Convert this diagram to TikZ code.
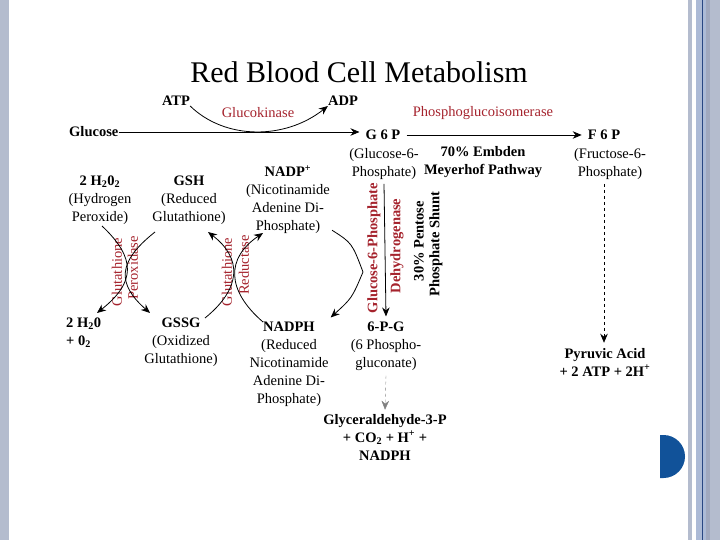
\documentclass[tikz,border=0pt]{standalone}
\usepackage{fontspec}
\setmainfont{Liberation Serif}
\usetikzlibrary{arrows.meta}
\definecolor{enzred}{RGB}{165,35,45}
\definecolor{stripe}{RGB}{180,188,206}
\definecolor{stripeb}{RGB}{172,186,214}
\definecolor{stripec}{RGB}{160,168,190}
\definecolor{darkline}{RGB}{40,70,130}
\definecolor{dblue}{RGB}{17,82,153}
\begin{document}
\begin{tikzpicture}[x=1pt,y=-1pt,
  txt/.style={font=\fontsize{14.5}{18}\selectfont, align=center, inner sep=0pt},
  btxt/.style={txt, font=\fontsize{14.5}{18}\selectfont\bfseries},
  enz/.style={txt, text=enzred},
  benz/.style={btxt, text=enzred},
  conn/.style={line width=0.8pt, -{Stealth[length=9pt,width=7.5pt]}},
]
\useasboundingbox (0,0) rectangle (720,540);
% frame decoration
\fill[stripe] (0,0) rectangle (9,540);
\fill[stripe] (688,0) rectangle (692,540);
\fill[stripeb] (696,0) rectangle (706,540);
\fill[stripec] (706,0) rectangle (710,540);
\fill[stripe] (710,0) rectangle (720,540);
\fill[darkline] (702,0) rectangle (703.2,540);
\fill[dblue] (660,435) -- (663.5,435) arc[start angle=-90, end angle=90, radius=21.5] -- (660,478) -- cycle;

% title
\node[font=\fontsize{30}{34}\selectfont, inner sep=0pt] (title) at (359,72) {Red Blood Cell Metabolism};

% top row
\node[btxt] (atp) at (176,101) {ATP};
\node[btxt] (adp) at (343,101) {ADP};
\node[enz] (glk) at (258,113) {Glucokinase};
\node[enz] (pgi) at (483,113) {Phosphoglucoisomerase};
\node[btxt, anchor=west] (glc) at (69,132) {Glucose};
\node[btxt] (g6pt) at (383,135) {G 6 P};
\node[txt] (g6p) at (384,164) {(Glucose-6-\\Phosphate)};
\node[btxt] (emb) at (483,162) {70\% Embden\\Meyerhof Pathway};
\node[btxt] (f6pt) at (604,135) {F 6 P};
\node[txt] (f6p) at (610,164) {(Fructose-6-\\Phosphate)};

% left side
\node[txt] (h2o2) at (100,200) {\textbf{2 H\textsubscript{2}0\textsubscript{2}}\\(Hydrogen\\Peroxide)};
\node[txt] (gsh) at (189,200) {\textbf{GSH}\\(Reduced\\Glutathione)};
\node[txt] (nadp) at (288,200) {\textbf{NADP\textsuperscript{+}}\\(Nicotinamide\\Adenine Di-\\Phosphate)};
\node[btxt, anchor=west, align=left] (h2o) at (66,333) {2 H\textsubscript{2}0\\+ 0\textsubscript{2}};
\node[txt] (gssg) at (181,342) {\textbf{GSSG}\\(Oxidized\\Glutathione)};
\node[txt] (nadph) at (289,364) {\textbf{NADPH}\\(Reduced\\Nicotinamide\\Adenine Di-\\Phosphate)};
\node[txt] (pg6) at (386,346) {\textbf{6-P-G}\\(6 Phospho-\\gluconate)};
\node[btxt] (gly) at (385,437) {Glyceraldehyde-3-P\\+ CO\textsubscript{2} + H\textsuperscript{+} +\\NADPH};
\node[btxt] (pyr) at (605,362) {Pyruvic Acid\\+ 2 ATP + 2H\textsuperscript{+}};

% rotated labels
\node[enz, rotate=90] (gp1) at (117,272) {Glutathione};
\node[enz, rotate=90] (gp2) at (133,268) {Peroxidase};
\node[enz, rotate=90] (gr1) at (227,272) {Glutathione};
\node[enz, rotate=90] (gr2) at (244,265) {Reductase};
\node[benz, rotate=90] (gd1) at (374,248) {Glucose-6-Phosphate};
\node[benz, rotate=90] (gd2) at (397,246) {Dehydrogenase};
\node[btxt, rotate=90] (pp1) at (419,241) {30\% Pentose};
\node[btxt, rotate=90] (pp2) at (436,244) {Phosphate Shunt};

% connector end points
\coordinate (c1s) at (102,226);
\coordinate (c1e) at (97,313);
\coordinate (c2s) at (155,232);
\coordinate (c2e) at (150,313);
\coordinate (c3s) at (205,318);
\coordinate (c3e) at (208,232);
\coordinate (c4s) at (263,322);
\coordinate (c4e) at (263,233);
\coordinate (nk) at (363,272);

% connectors
\draw[conn] (atp.south east) .. controls (225,140) and (285,140) .. (adp.south west);
\draw[conn] (glc.east) -- ([xshift=-6pt]g6pt.west |- glc.east);
\draw[conn] ([xshift=6pt]g6pt.east) -- ([xshift=-6pt]f6pt.west);
\draw[conn, dashed, line width=0.6pt] ([yshift=-4pt]f6p.south -| f6pt) -- ([yshift=5pt]pyr.north -| f6pt);
\draw[conn] ([yshift=-4pt]g6p.south) -- ([yshift=5pt]pg6.north);
\draw[conn, dashed, line width=0.4pt, gray] ([yshift=-5pt]pg6.south) -- ([yshift=4pt]gly.north);
\draw[conn] ([xshift=2pt,yshift=4pt]nadp.south east) .. controls (352,243) .. (nk) .. controls (352,298) .. ([xshift=2pt,yshift=4pt]nadph.north east);
\draw[conn] (c1s) .. controls (136,258) and (136,282) .. (c1e);
\draw[conn] (c2s) .. controls (117,262) and (117,284) .. (c2e);
\draw[conn] (c3s) .. controls (242,288) and (242,258) .. (c3e);
\draw[conn] (c4s) .. controls (226,290) and (226,258) .. (c4e);
\end{tikzpicture}
\end{document}
